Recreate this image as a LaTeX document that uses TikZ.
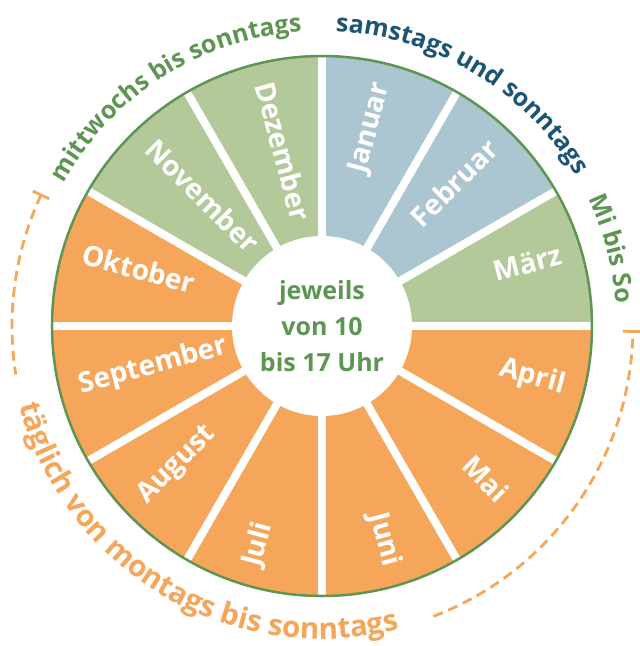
\documentclass[tikz,border=0pt]{standalone}
\usepackage{fontspec}
\setmainfont{Open Sans}
\usetikzlibrary{decorations.text}
\definecolor{corange}{HTML}{F5A65A}
\definecolor{cgreen}{HTML}{B4C99A}
\definecolor{cblue}{HTML}{ABC6D1}
\definecolor{tgreen}{HTML}{5E9552}
\definecolor{tblue}{HTML}{1B5573}
\newcommand\monthfont{\fontsize{28pt}{28pt}\selectfont\bfseries}
\newcommand\arcfont{\fontsize{25pt}{25pt}\selectfont\bfseries}
\newcommand\botfont{\fontsize{29.5pt}{29.5pt}\selectfont\bfseries}
\tikzset{
  monthR/.style={text=white, font=\monthfont, anchor=mid east, inner sep=0pt},
  monthL/.style={text=white, font=\monthfont, anchor=mid west, inner sep=0pt},
  sep/.style={white, line width=8pt},
  dashline/.style={corange, line width=2.8pt, dash pattern=on 10pt off 6pt},
  tickline/.style={corange, line width=2.8pt},
}
\begin{document}
\begin{tikzpicture}
\useasboundingbox (-322pt,-320pt) rectangle (318pt,326pt);
% sectors
\foreach \a/\c in {90/cblue,60/cblue,30/cgreen,0/corange,-30/corange,-60/corange,-90/corange,-120/corange,-150/corange,-180/corange,-210/cgreen,-240/cgreen}{
  \fill[\c] (0pt,0pt) -- (\a:270pt) arc[start angle=\a, end angle=\a-30, radius=270pt] -- cycle;
}
% separators
\foreach \a in {0,30,...,330}{
  \draw[sep] (\a:80pt) -- (\a:271pt);
}
\fill[white] (0pt,0pt) circle[radius=90pt];
\draw[tgreen, line width=2.5pt] (0pt,0pt) circle[radius=270pt];
% months
\node[monthR, rotate=75] (jan) at (75:250pt) {Januar};
\node[monthR, rotate=45] (feb) at (45:250pt) {Februar};
\node[monthR, rotate=15] (mar) at (15:250pt) {März};
\node[monthR, rotate=-15] (apr) at (-15:250pt) {April};
\node[monthR, rotate=-45] (mai) at (-45:250pt) {Mai};
\node[monthR, rotate=-75] (jun) at (-75:250pt) {Juni};
\node[monthL, rotate=75] (jul) at (-105:250pt) {Juli};
\node[monthL, rotate=45] (aug) at (-135:250pt) {August};
\node[monthL, rotate=15] (sep) at (-165:250pt) {September};
\node[monthL, rotate=-15] (okt) at (165:250pt) {Oktober};
\node[monthL, rotate=-45] (nov) at (135:250pt) {November};
\node[monthL, rotate=-75] (dez) at (105:250pt) {Dezember};
% center
\node[align=center, text=tgreen, font=\fontsize{25pt}{36pt}\selectfont\bfseries] (hours) at (0pt,0pt) {jeweils\\von 10\\bis 17 Uhr};
% arc texts
\path[decorate, decoration={text along path, text align=center,
  text={|\arcfont\color{tgreen}|mittwochs bis sonntags}}]
  (153:295pt) arc[start angle=153, end angle=92, radius=295pt];
\path[decorate, decoration={text along path, text align=center,
  text={|\arcfont\color{tblue}|samstags und sonntags}}]
  (88:295pt) arc[start angle=88, end angle=30, radius=295pt];
\path[decorate, decoration={text along path, text align=center,
  text={|\arcfont\color{tgreen}|Mi bis So}}]
  (27:295pt) arc[start angle=27, end angle=3, radius=295pt];
\path[decorate, decoration={text along path, text align=center,
  text={|\botfont\color{corange}|täglich von montags bis sonntags}}]
  (-170:313pt) arc[start angle=-170, end angle=-71, radius=313pt];
% dashed bracket
\coordinate (d1a) at (155:301pt);
\coordinate (d1b) at (155:319pt);
\coordinate (d2a) at (-1:301pt);
\coordinate (d2b) at (-1:318pt);
\draw[tickline] (d1a) -- (d1b);
\draw[tickline] (d2a) -- (d2b);
\draw[dashline] (155:310pt) arc[start angle=155, end angle=189, radius=310pt];
\draw[dashline] (-69:311pt) arc[start angle=-69, end angle=-1, radius=311pt];
\end{tikzpicture}
\end{document}
